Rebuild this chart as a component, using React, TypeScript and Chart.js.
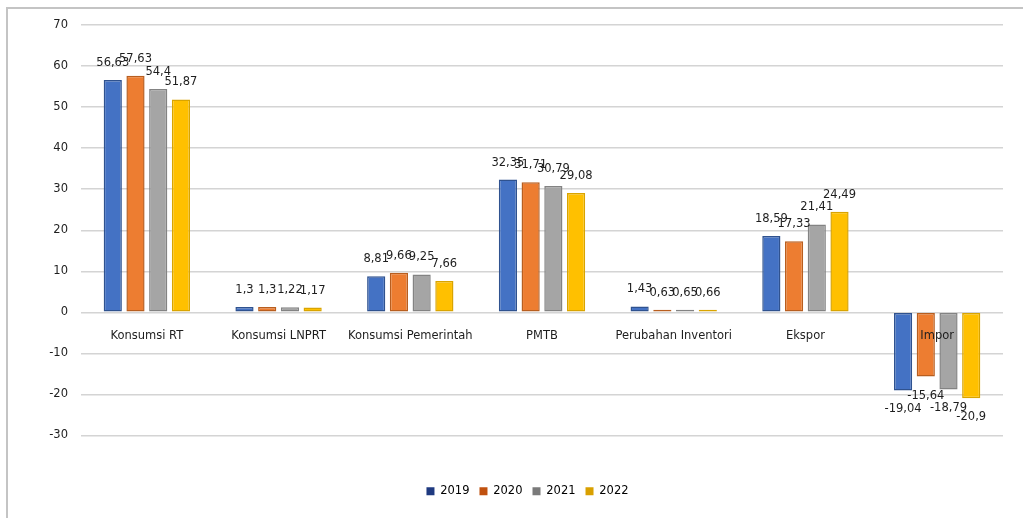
import React, { useEffect, useRef } from 'react';
import { Chart, registerables } from 'chart.js';

Chart.register(...registerables);

const categories = ['Konsumsi RT', 'Konsumsi LNPRT', 'Konsumsi Pemerintah', 'PMTB', 'Perubahan Inventori', 'Ekspor', 'Impor'];
const years = ['2019', '2020', '2021', '2022'];
const values2019 = [56.63, 1.3, 8.81, 32.35, 1.43, 18.59, -19.04];
const values2020 = [57.63, 1.3, 9.66, 31.71, 0.63, 17.33, -15.64];
const values2021 = [54.4, 1.22, 9.25, 30.79, 0.65, 21.41, -18.79];
const values2022 = [51.87, 1.17, 7.66, 29.08, 0.66, 24.49, -20.9];
const yMin = -30;
const yMax = 70;
const yStep = 10;

const fillColors = ['#4472C4', '#ED7D31', '#A5A5A5', '#FFC000'];
const borderColors = ['#2F528F', '#B85E1F', '#838383', '#D9A400'];
const legendColors = ['#1F3A80', '#C0510F', '#7A7A7A', '#D9A000'];

const FONT = '"DejaVu Sans", Verdana, sans-serif';
const TEXT = '#1e1e1e';

const fmt = (v: number) => String(v).replace('.', ',');

const valueLabelPlugin = {
  id: 'valueLabels',
  afterDatasetsDraw(chart: any) {
    const ctx = chart.ctx;
    ctx.save();
    ctx.font = `11.5px ${FONT}`;
    ctx.fillStyle = TEXT;
    ctx.textAlign = 'center';
    ctx.textBaseline = 'middle';
    chart.data.datasets.forEach((ds: any, di: number) => {
      const meta = chart.getDatasetMeta(di);
      meta.data.forEach((bar: any, i: number) => {
        const v = ds.data[i];
        const y = v >= 0 ? bar.y - 17 : bar.y + 19;
        ctx.fillText(fmt(v), bar.x, y);
      });
    });
    ctx.restore();
  },
};

const legendShiftPlugin = {
  id: 'legendShift',
  afterLayout(chart: any) {
    if (chart.legend) {
      chart.legend.left += 22;
      chart.legend.right += 22;
    }
  },
};

export default function App() {
  const ref = useRef<HTMLCanvasElement | null>(null);

  useEffect(() => {
    if (!ref.current) return;
    const series = [values2019, values2020, values2021, values2022];
    const chart = new Chart(ref.current, {
      type: 'bar',
      data: {
        labels: categories,
        datasets: series.map((d, i) => ({
          label: years[i],
          data: d,
          backgroundColor: fillColors[i],
          borderColor: borderColors[i],
          borderWidth: 1.5,
          borderSkipped: false,
          categoryPercentage: 0.69,
          barPercentage: 0.8,
        })),
      },
      options: {
        responsive: false,
        animation: false,
        layout: { padding: { top: 16, right: 20, bottom: 11, left: 0 } },
        plugins: {
          tooltip: { enabled: false },
          legend: {
            position: 'bottom',
            labels: {
              boxWidth: 8,
              boxHeight: 8,
              color: TEXT,
              font: { family: FONT, size: 11.5 },
              padding: 10,
              generateLabels: (c: any) =>
                c.data.datasets.map((ds: any, i: number) => ({
                  text: ds.label,
                  fillStyle: legendColors[i],
                  strokeStyle: legendColors[i],
                  lineWidth: 0,
                  hidden: false,
                  datasetIndex: i,
                })),
            },
          },
        },
        scales: {
          x: {
            type: 'category',
            position: { y: 0 } as any,
            grid: { display: false },
            border: { display: false },
            ticks: {
              z: 1,
              color: TEXT,
              font: { family: FONT, size: 11.5 },
              padding: 9,
              maxRotation: 0,
              autoSkip: false,
            },
          },
          x2: {
            type: 'category',
            labels: categories,
            position: 'bottom',
            grid: { display: false },
            border: { display: false },
            ticks: { display: false },
            afterFit: (s: any) => {
              s.height = 40;
            },
          },
          y: {
            min: yMin,
            max: yMax,
            grid: {
              color: '#d4d4d4',
              lineWidth: 1.5,
              drawTicks: true,
              tickLength: 10,
              tickColor: 'rgba(0,0,0,0)',
            },
            border: { display: false },
            ticks: {
              stepSize: yStep,
              color: TEXT,
              font: { family: FONT, size: 11.5 },
              padding: 3,
            },
            afterFit: (s: any) => {
              s.width = 73;
            },
          },
        },
      },
      plugins: [valueLabelPlugin, legendShiftPlugin],
    });
    return () => chart.destroy();
  }, []);

  return (
    <div
      style={{
        position: 'absolute',
        left: 6,
        top: 7,
        borderLeft: '2px solid #c4c4c4',
        borderTop: '2px solid #c4c4c4',
        width: 1015,
        height: 509,
      }}
    >
      <canvas ref={ref} width={1015} height={509} style={{ display: 'block' }} />
    </div>
  );
}
